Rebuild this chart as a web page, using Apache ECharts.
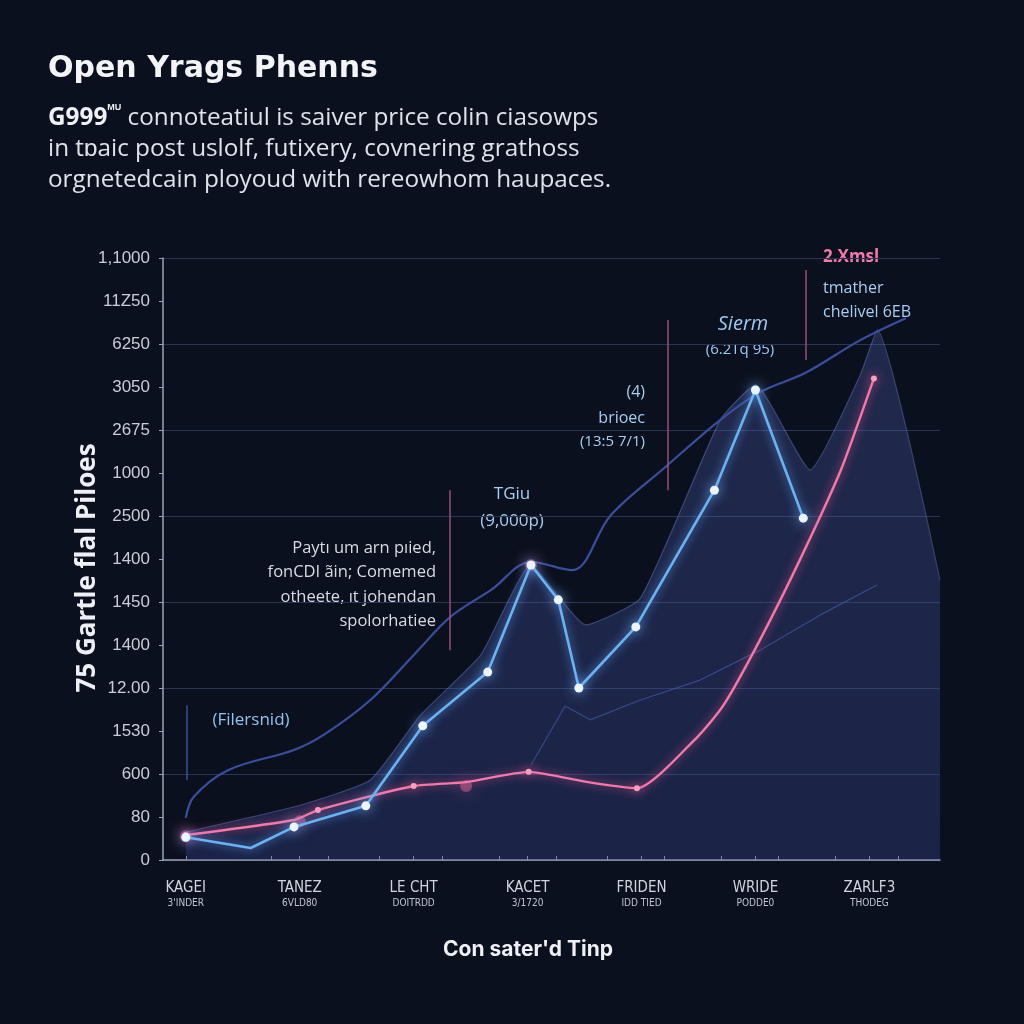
<!DOCTYPE html>
<html>
<head>
<meta charset="utf-8">
<script src="https://cdn.jsdelivr.net/npm/echarts@6/dist/echarts.min.js"></script>
<style>
html,body{margin:0;padding:0;background:#0b101e;}
#c{width:1024px;height:1024px;}
</style>
</head>
<body>
<div id="c"></div>
<script>
// ---- data ----
const categories = ["KAGEI\n3'INDER", "TANEZ\n6VLD80", "LE CHT\nDOITRDD", "KACET\n3/1720", "FRIDEN\nIDD TIED", "WRIDE\nPODDE0", "ZARLF3\nTHODEG"];
const yTickLabels = ['0','80','600','1530','12.00','1400','1450','1400','2500','1000','2675','3050','6250','11Z50','1,1000'];
const xMinorTicks = [0.75,1.25,1.7,2.25,2.75,3.25,3.7,4.2,4.7,5.2,5.7,6.25];

const blueSeries = [[0,0.53],[0.57,0.28],[0.95,0.77],[1.58,1.26],[2.08,3.12],[2.65,4.37],[3.03,6.86],[3.27,6.05],[3.45,4.0],[3.95,5.42],[4.64,8.6],[5.0,10.93],[5.42,7.95]];
const pinkSeries = [[0,0.58],[0.95,0.93],[1.16,1.16],[2.0,1.72],[2.46,1.81],[3.01,2.05],[3.53,1.81],[3.96,1.67],[4.49,2.86],[4.72,3.6],[5.04,5.12],[5.39,6.98],[5.75,9.07],[6.04,11.2]];
const navySeries = [[0,0.98],[0.07,1.47],[0.37,2.09],[0.95,2.56],[1.21,2.91],[1.62,3.72],[2.04,4.88],[2.32,5.65],[2.68,6.28],[3.03,6.93],[3.39,6.74],[3.73,8.02],[4.21,9.14],[4.69,10.23],[5.04,10.88],[5.44,11.33],[5.92,12.09],[6.32,12.6]];
const areaSeries = [[0,0.65],[1.01,1.28],[1.62,1.86],[2.06,3.37],[2.59,4.77],[3.03,6.86],[3.51,5.47],[3.99,6.09],[4.69,10.23],[5.0,11.05],[5.48,9.07],[5.92,11.28],[6.07,12.33],[6.62,6.51]];
const faintSeries = [[3.03,2.21],[3.33,3.58],[3.55,3.26],[3.99,3.72],[4.52,4.19],[5.04,4.88],[5.57,5.7],[6.07,6.4]];
const glowPoints = [[3.03,6.86],[2.46,1.72],[1.0,0.9],[0,0.55]];
const pinkMarked = [0,2,3,5,7,13];

// annotation leader lines [x, yFrom, yTo]
const leaders = [[2.32,8.6,4.88],[4.23,12.56,8.6],[5.44,13.72,11.63]];
const leaderBlue = [[0.01,3.6,1.86]];

const chart = echarts.init(document.getElementById('c'), null, {renderer:'canvas'});
const FONT = '"Liberation Sans", Arial, sans-serif';
const AFONT = '"Open Sans", "Liberation Sans", sans-serif';

const option = {
  backgroundColor: '#0b101e',
  animation: false,
  grid: {left:163, right:84, top:258, bottom:164},
  xAxis: {
    type:'value', min:-0.2, max:6.62,
    axisLine:{show:true, onZero:false, lineStyle:{color:'#9aa3b8', width:1.5}},
    axisTick:{show:true, inside:true, length:4, customValues: xMinorTicks.concat([0,1,2,3,4,5,6]), lineStyle:{color:'#9aa3b8'}},
    splitLine:{show:false},
    axisLabel:{
      customValues:[0,1,2,3,4,5,6],
      margin:20,
      formatter: v => {
        const parts = categories[Math.round(v)].split('\n');
        return '{a|'+parts[0]+'}\n{b|'+parts[1]+'}';
      },
      rich:{
        a:{fontSize:15, color:'#d0d4de', fontFamily:'"DejaVu Sans Condensed", "DejaVu Sans", sans-serif', lineHeight:17},
        b:{fontSize:10, color:'#c0c5d2', fontFamily:'"DejaVu Sans Condensed", "DejaVu Sans", sans-serif', lineHeight:13}
      }
    }
  },
  yAxis: [
    {
      type:'value', min:0, max:14, interval:1,
      axisLine:{show:true, onZero:false, lineStyle:{color:'#9aa3b8', width:1.5}},
      axisTick:{show:true, length:4, lineStyle:{color:'#9aa3b8'}},
      splitLine:{show:false},
      axisLabel:{
        margin:13, color:'#c9cdd8', fontSize:17, fontFamily:FONT,
        formatter: v => yTickLabels[Math.round(v)]
      }
    },
    {
      type:'value', min:0, max:14, interval:2, position:'left',
      axisLine:{show:false, onZero:false}, axisTick:{show:false}, axisLabel:{show:false},
      splitLine:{show:true, lineStyle:{color:'#2a3456', width:1.2}}
    }
  ],
  series: [
    {
      name:'area', type:'line', data:areaSeries, symbol:'none', smooth:0.15,
      lineStyle:{color:'rgba(130,150,230,0.35)', width:1.2},
      areaStyle:{color:{type:'linear',x:0,y:0,x2:0,y2:1,colorStops:[{offset:0,color:'rgba(84,100,185,0.42)'},{offset:1,color:'rgba(60,76,160,0.45)'}]}},
      z:1
    },
    {
      name:'faint', type:'line', data:faintSeries, symbol:'none',
      lineStyle:{color:'rgba(80,100,190,0.55)', width:1.2}, z:2
    },
    {
      name:'navy', type:'line', data:navySeries, symbol:'none', smooth:0.35,
      lineStyle:{color:'#3b4e9c', width:2.2}, z:3,
      markLine:{
        silent:true, symbol:'none', label:{show:false},
        lineStyle:{color:'#9a4c7a', width:1.5, type:'solid'},
        data: leaders.map(l => [{coord:[l[0], l[1]]},{coord:[l[0], l[2]]}])
          .concat(leaderBlue.map(l => [{coord:[l[0], l[1]], lineStyle:{color:'#3a4f9a'}},{coord:[l[0], l[2]]}]))
      }
    },
    {
      name:'pink', type:'line', data:pinkSeries, smooth:0.2,
      symbol:'circle', symbolSize:(v, p) => pinkMarked.indexOf(p.dataIndex) >= 0 ? 6 : 0,
      itemStyle:{color:'#f5a0c0', shadowBlur:12, shadowColor:'#ff5c9a'},
      lineStyle:{color:'#f07aa8', width:2.4, shadowBlur:10, shadowColor:'rgba(255,90,150,0.8)'},
      z:5
    },
    {
      name:'blue', type:'line', data:blueSeries,
      symbol:'circle', symbolSize:(v, p) => p.dataIndex === 1 ? 0 : 9,
      itemStyle:{color:'#eaf5ff', shadowBlur:14, shadowColor:'#79b8ff'},
      lineStyle:{color:'#6cb2f2', width:2.6, shadowBlur:10, shadowColor:'rgba(100,170,255,0.9)'},
      z:6
    },
    {
      name:'glow', type:'scatter', data:glowPoints, symbolSize:12,
      itemStyle:{color:'rgba(255,120,170,0.5)', shadowBlur:18, shadowColor:'#ff5c9a'},
      z:4
    }
  ],
  graphic: [
    {type:'text', left:48, top:54, style:{text:'Open Yrags Phenns', font:'bold 30px "DejaVu Sans", sans-serif', fill:'#f2f4f8'}},
    {type:'text', left:48, top:103, style:{
      text:'{g|G999}{s|MU} connoteatiul is saiver price colin ciasowps\nin tɒaic post uslolf, futixery, covnering grathoss\norgnetedcain ployoud with rereowhom haupaces.',
      font:'24.3px "Open Sans", "Liberation Sans", sans-serif', fill:'#dfe2ea', lineHeight:31,
      rich:{g:{font:'bold 24.3px "Open Sans", "Liberation Sans", sans-serif', fill:'#eef0f5', lineHeight:31}, s:{font:'bold 9px "Liberation Sans", Arial, sans-serif', fill:'#eef0f5', verticalAlign:'top', lineHeight:31}}
    }},
    {type:'text', x:88, y:568, rotation:Math.PI/2, style:{text:'75 Gartle flal Piloes', font:'bold 26px "Open Sans", Inter, sans-serif', fill:'#eef0f5', align:'center', verticalAlign:'middle'}},
    {type:'text', x:528, y:950, style:{text:"Con sater'd Tinp", font:'bold 21px Inter, "Open Sans", sans-serif', fill:'#eef0f5', align:'center', verticalAlign:'middle'}},

    {type:'text', x:251, y:720, style:{text:'(Filersnid)', font:'17px ' + AFONT, fill:'#8fc3f0', align:'center', verticalAlign:'middle'}},
    {type:'text', x:436, y:536, style:{text:'Paytı um arn pıied,\nfonCDI ãin; Comemed\notheete, ıt johendan\nspolorhatiee', font:'16.5px ' + AFONT, fill:'#d8dbe4', align:'right', verticalAlign:'top', lineHeight:24.5}},
    {type:'text', x:512, y:494, style:{text:'TGiu', font:'17px ' + AFONT, fill:'#a9cdf2', align:'center', verticalAlign:'middle'}},
    {type:'text', x:512, y:521, style:{text:'(9,000p)', font:'17px ' + AFONT, fill:'#a9cdf2', align:'center', verticalAlign:'middle'}},
    {type:'text', x:645, y:392, style:{text:'(4)', font:'16px ' + AFONT, fill:'#a9cdf2', align:'right', verticalAlign:'middle'}},
    {type:'text', x:645, y:418, style:{text:'brioec', font:'16px ' + AFONT, fill:'#a9cdf2', align:'right', verticalAlign:'middle'}},
    {type:'text', x:645, y:442, style:{text:'(13:5 7/1)', font:'15px ' + AFONT, fill:'#a9cdf2', align:'right', verticalAlign:'middle'}},
    {type:'text', x:743, y:324, style:{text:'Sierm', font:'italic 20px ' + AFONT, fill:'#9dc9f2', align:'center', verticalAlign:'middle'}},
    {type:'text', x:740, y:350, style:{text:'(6.2Tq 95)', font:'15px ' + AFONT, fill:'#9dc9f2', align:'center', verticalAlign:'middle'}},
    {type:'text', x:823, y:257, style:{text:'2.Xmsl', font:'bold 17px ' + AFONT, fill:'#f07aa8', align:'left', verticalAlign:'middle'}},
    {type:'text', x:823, y:288, style:{text:'tmather', font:'16px ' + AFONT, fill:'#a9cdf2', align:'left', verticalAlign:'middle'}},
    {type:'text', x:823, y:312, style:{text:'chelivel 6EB', font:'16px ' + AFONT, fill:'#a9cdf2', align:'left', verticalAlign:'middle'}}
  ]
};
chart.setOption(option);
</script>
</body>
</html>
